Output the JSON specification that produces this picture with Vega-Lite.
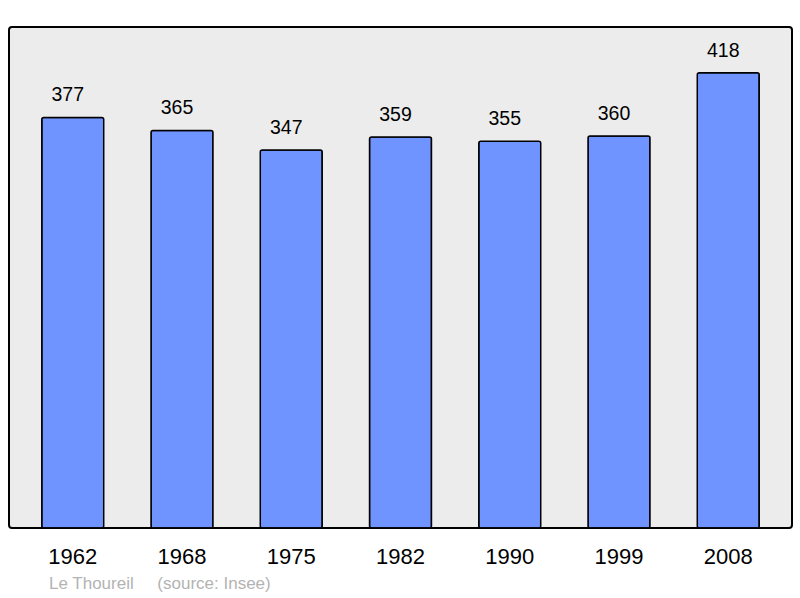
{
  "$schema": "https://vega.github.io/schema/vega-lite/v6.json",
  "width": 783,
  "height": 501,
  "autosize": {"type": "none"},
  "padding": {"left": 9, "top": 27, "right": 8, "bottom": 70},
  "background": "white",
  "config": {
    "view": {"fill": "#ececec", "stroke": "#000000", "strokeWidth": 2, "cornerRadius": 3},
    "font": "Liberation Sans"
  },
  "title": {
    "text": "Le Thoureil\u00a0\u00a0\u00a0\u00a0\u00a0(source: Insee)",
    "orient": "bottom",
    "anchor": "start",
    "dx": 40,
    "offset": 9,
    "fontSize": 17,
    "fontWeight": "normal",
    "color": "#b3b3b3",
    "font": "Liberation Sans"
  },
  "data": {
    "values": [
      {"year": "1962", "population": 377},
      {"year": "1968", "population": 365},
      {"year": "1975", "population": 347},
      {"year": "1982", "population": 359},
      {"year": "1990", "population": 355},
      {"year": "1999", "population": 360},
      {"year": "2008", "population": 418}
    ]
  },
  "encoding": {
    "x": {
      "field": "year",
      "type": "ordinal",
      "sort": null,
      "scale": {"paddingInner": 0.433, "paddingOuter": 0.3},
      "axis": {
        "title": null,
        "domain": false,
        "ticks": false,
        "labelAngle": 0,
        "labelFontSize": 22,
        "labelColor": "#000000",
        "labelPadding": 35,
        "labelBaseline": "alphabetic",
        "labelFont": "Liberation Sans"
      }
    },
    "y": {
      "field": "population",
      "type": "quantitative",
      "scale": {"domain": [0, 460], "nice": false},
      "axis": null
    }
  },
  "layer": [
    {
      "mark": {"type": "bar", "fill": "#7094ff", "stroke": "#000000", "strokeWidth": 1.5, "cornerRadius": 2}
    },
    {
      "mark": {"type": "text", "baseline": "alphabetic", "dx": -5, "dy": -16, "fontSize": 19.5, "color": "#000000", "font": "Liberation Sans"},
      "encoding": {"text": {"field": "population", "type": "quantitative"}}
    }
  ]
}
